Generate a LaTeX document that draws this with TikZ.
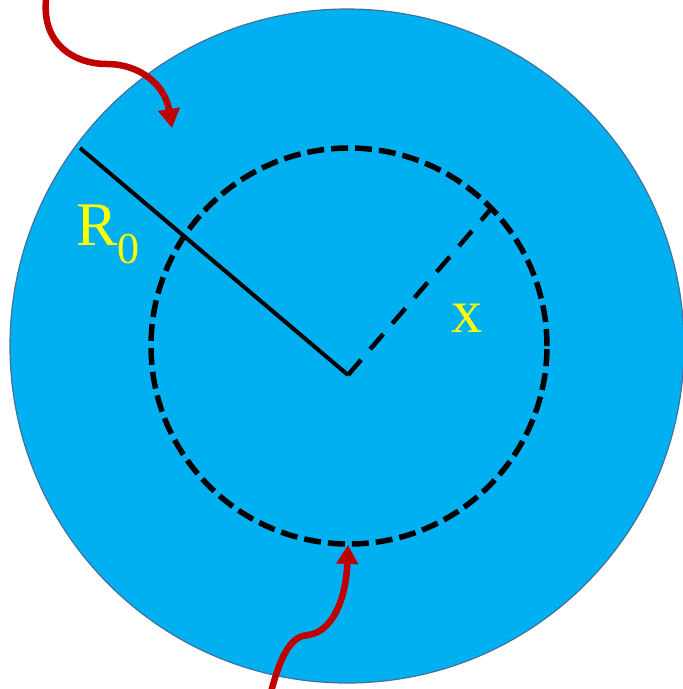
\documentclass[tikz,border=0pt]{standalone}
\usepackage{fontspec}
\setmainfont{Liberation Serif}
\usetikzlibrary{arrows.meta}
\definecolor{disk}{HTML}{00B0F0}
\definecolor{diskedge}{HTML}{41719C}
\definecolor{flux}{HTML}{C00000}
\definecolor{lbl}{HTML}{FFFF00}
\tikzset{
  fluxarrow/.style={draw=flux, line width=6.5pt, -{Triangle[length=19pt,width=21pt]}},
  labeltext/.style={text=lbl, font=\fontsize{62}{62}\selectfont, inner sep=0pt, anchor=base west},
}
\begin{document}
\begin{tikzpicture}[x=1pt,y=-1pt]
\useasboundingbox (0,0) rectangle (683,689);
\node[circle, minimum size=674pt, inner sep=0pt, fill=disk, draw=diskedge, line width=1.2pt] (outer) at (347,346) {};
\node[circle, minimum size=396pt, inner sep=0pt, draw=black, line width=5.5pt, dash pattern=on 17pt off 7pt] (inner) at (349,346) {};
\coordinate (rim) at (80,148);
\coordinate (ctr) at (348,375);
\coordinate (xend) at (490,210);
\draw[line width=4pt, line cap=butt] (rim) -- (ctr);
\draw[line width=4.5pt, dash pattern=on 20pt off 14pt] (ctr) -- (xend);
\node[labeltext] (R0) at (76,245) {R\raisebox{-18pt}{\fontsize{44}{44}\selectfont 0}};
\node[labeltext] (xl) at (451,332) {x};
\coordinate (a1s) at (46,0);
\coordinate (a1e) at (172,128);
\draw[fluxarrow] (a1s) .. controls (42,45) and (75,64) .. (107,64) .. controls (140,64) and (165,85) .. (a1e);
\coordinate (a2s) at (271,692);
\coordinate (a2e) at (348,545);
\draw[fluxarrow] (a2s) .. controls (282,650) and (293,636) .. (308,635) .. controls (332,632) and (346,600) .. (a2e);
\end{tikzpicture}
\end{document}
